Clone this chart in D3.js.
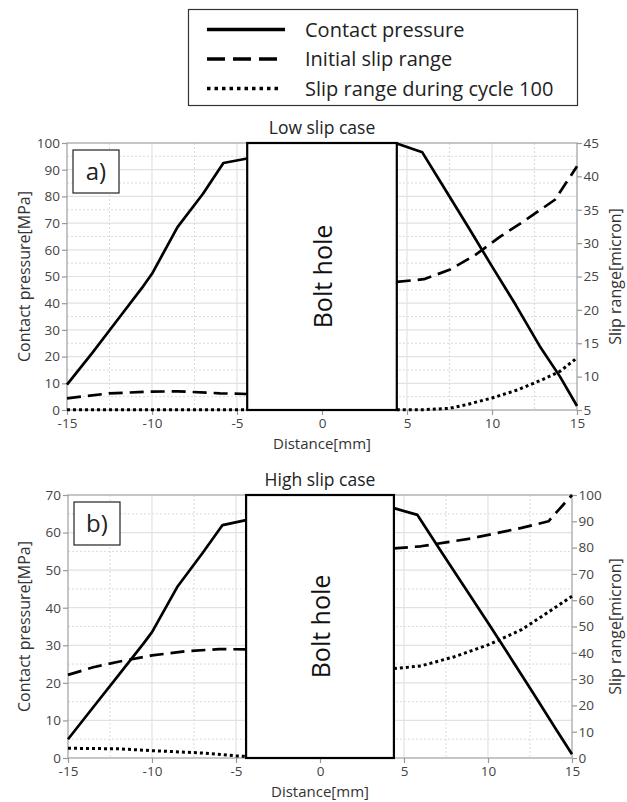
<!DOCTYPE html>
<html>
<head>
<meta charset="utf-8">
<script src="https://cdn.jsdelivr.net/npm/d3@7"></script>
<style>
  html, body { margin: 0; padding: 0; background: #fff; }
  svg { display: block; }
  text { font-family: "Open Sans", "Noto Sans", sans-serif; }
</style>
</head>
<body>
<svg id="chart" width="627" height="802"></svg>
<script>
// ---------------- DATA ----------------
const xTicks = [-15, -10, -5, 0, 5, 10, 15];
const boltHole = [-4.4, 4.4];

// Panel a) Low slip case
const lowLeftTicks = [0, 10, 20, 30, 40, 50, 60, 70, 80, 90, 100];
const lowRightTicks = [5, 10, 15, 20, 25, 30, 35, 40, 45];
const lowContactLeftX = [-15, -13.5, -12, -10.5, -10, -8.5, -7, -5.8, -4.4];
const lowContactLeftY = [9.5, 21.5, 34, 46.5, 51, 68.5, 81, 92.5, 94.2];
const lowContactRightX = [4.4, 5.9, 7.3, 8.7, 10, 11.4, 12.8, 14, 15];
const lowContactRightY = [99.8, 96.5, 82, 67.5, 53.8, 39.3, 24, 12.5, 1.5];
const lowInitialLeftX = [-15, -12.5, -10, -8.5, -6, -4.4];
const lowInitialLeftY = [6.75, 7.5, 7.75, 7.8, 7.5, 7.4];
const lowInitialRightX = [4.4, 6, 7.5, 9, 10.5, 12, 13.7, 15];
const lowInitialRightY = [24.2, 24.6, 26, 28.2, 31, 33.5, 36.5, 41.5];
const lowCycleLeftX = [-15, -4.4];
const lowCycleLeftY = [5.05, 5.05];
const lowCycleRightX = [4.4, 6, 7.5, 8.5, 10, 11.5, 13, 14, 15];
const lowCycleRightY = [5.05, 5.05, 5.25, 5.8, 6.8, 8, 9.6, 10.8, 12.8];

// Panel b) High slip case
const highLeftTicks = [0, 10, 20, 30, 40, 50, 60, 70];
const highRightTicks = [0, 10, 20, 30, 40, 50, 60, 70, 80, 90, 100];
const highContactLeftX = [-15, -13.5, -12, -10.5, -10, -8.5, -7, -5.8, -4.4];
const highContactLeftY = [5, 13.5, 22, 30.5, 33.5, 45.5, 54.5, 62, 63.3];
const highContactRightX = [4.4, 5.8, 7.2, 8.6, 10, 11.4, 12.8, 14, 15];
const highContactRightY = [66.5, 64.7, 55, 45.5, 36, 26.3, 16.5, 8, 1];
const highInitialLeftX = [-15, -13.5, -12, -10, -8, -6, -4.4];
const highInitialLeftY = [31.6, 34.5, 36.6, 39, 40.6, 41.4, 41.3];
const highInitialRightX = [4.4, 6, 7.5, 9, 10.5, 12, 13.6, 15];
const highInitialRightY = [79.7, 80.5, 82, 83.5, 85.5, 87.5, 90, 100];
const highCycleLeftX = [-15, -12, -10, -7, -5, -4.4];
const highCycleLeftY = [3.7, 3.5, 2.8, 1.9, 0.8, 0.6];
const highCycleRightX = [4.4, 6, 8, 10, 12, 13.6, 15];
const highCycleRightY = [34, 35, 38.5, 43, 48.8, 55.5, 61.5];

const legendLabels = ["Contact pressure", "Initial slip range", "Slip range during cycle 100"];

// ---------------- DRAWING ----------------
const svg = d3.select("#chart");
const styles = {
  solid: { width: 2.7, dash: null },
  dashed: { width: 2.7, dash: "14,7" },
  dotted: { width: 3, dash: "3,3" }
};

// Legend
const lg = svg.append("g");
lg.append("rect").attr("x", 188.5).attr("y", 9.5).attr("width", 389).attr("height", 96)
  .attr("fill", "#fff").attr("stroke", "#333").attr("stroke-width", 1.2);
const legendStyles = [
  { width: 3.6, dash: null, x2: 285 },
  { width: 3.6, dash: "18,8", x2: 277 },
  { width: 3.6, dash: "3.5,4", x2: 279 }
];
legendLabels.forEach((lab, i) => {
  const y = 29.5 + i * 29.5;
  lg.append("line").attr("x1", 207).attr("x2", legendStyles[i].x2).attr("y1", y).attr("y2", y)
    .attr("stroke", "#000").attr("stroke-width", legendStyles[i].width)
    .attr("stroke-dasharray", legendStyles[i].dash);
  lg.append("text").attr("x", 305).attr("y", y + 7).attr("font-size", 20)
    .attr("fill", "#222").text(lab);
});

function panel(cfg) {
  const x = d3.scaleLinear().domain([-15, 15]).range([cfg.left, cfg.right]);
  const yL = d3.scaleLinear().domain(cfg.leftDomain).range([cfg.bottom, cfg.top]);
  const yR = d3.scaleLinear().domain(cfg.rightDomain).range([cfg.bottom, cfg.top]);
  const g = svg.append("g");

  // grid
  const lt = cfg.leftTicks;
  const stepL = lt[1] - lt[0];
  lt.forEach(v => {
    if (v > lt[0] && v < lt[lt.length - 1]) {
      g.append("line").attr("x1", cfg.left).attr("x2", cfg.right)
        .attr("y1", yL(v)).attr("y2", yL(v)).attr("stroke", "#e2e2e2").attr("stroke-width", 1.2);
    }
    if (v < lt[lt.length - 1]) {
      g.append("line").attr("x1", cfg.left).attr("x2", cfg.right)
        .attr("y1", yL(v + stepL / 2)).attr("y2", yL(v + stepL / 2))
        .attr("stroke", "#dadada").attr("stroke-width", 1).attr("stroke-dasharray", "2,2");
    }
  });
  xTicks.forEach((v, i) => {
    if (i > 0 && i < xTicks.length - 1) {
      g.append("line").attr("x1", x(v)).attr("x2", x(v)).attr("y1", cfg.top).attr("y2", cfg.bottom)
        .attr("stroke", "#e2e2e2").attr("stroke-width", 1.2);
    }
    if (i < xTicks.length - 1) {
      g.append("line").attr("x1", x(v + 2.5)).attr("x2", x(v + 2.5)).attr("y1", cfg.top).attr("y2", cfg.bottom)
        .attr("stroke", "#dadada").attr("stroke-width", 1).attr("stroke-dasharray", "2,2");
    }
  });

  // frame
  g.append("rect").attr("x", cfg.left).attr("y", cfg.top)
    .attr("width", cfg.right - cfg.left).attr("height", cfg.bottom - cfg.top)
    .attr("fill", "none").attr("stroke", "#a0a0a0").attr("stroke-width", 1.2);

  // axes
  const axStyle = a => {
    a.attr("font-family", null);
    a.select(".domain").remove();
    a.selectAll(".tick line").attr("stroke", "#999").attr("stroke-width", 1.2);
    a.selectAll(".tick text").attr("fill", "#444").attr("font-size", 13.5);
  };
  g.append("g").attr("transform", `translate(0,${cfg.bottom})`)
    .call(d3.axisBottom(x).tickValues(xTicks).tickSize(5).tickPadding(3.5).tickFormat(d => String(d)))
    .call(axStyle);
  g.append("g").attr("transform", `translate(${cfg.left},0)`)
    .call(d3.axisLeft(yL).tickValues(cfg.leftTicks).tickSize(5).tickPadding(2).tickFormat(d => String(d)))
    .call(axStyle);
  g.append("g").attr("transform", `translate(${cfg.right},0)`)
    .call(d3.axisRight(yR).tickValues(cfg.rightTicks).tickSize(5).tickPadding(1.5).tickFormat(d => String(d)))
    .call(axStyle);

  // series
  const lineL = d3.line().x(d => x(d[0])).y(d => yL(d[1]));
  const lineR = d3.line().x(d => x(d[0])).y(d => yR(d[1]));
  cfg.series.forEach(s => {
    const pts = d3.zip(s.x, s.y);
    g.append("path").attr("d", (s.axis === "L" ? lineL : lineR)(pts))
      .attr("fill", "none").attr("stroke", "#000")
      .attr("stroke-width", s.style.width).attr("stroke-dasharray", s.style.dash)
      .attr("stroke-linejoin", "round");
  });

  // bolt hole
  g.append("rect").attr("x", x(boltHole[0])).attr("y", cfg.top)
    .attr("width", x(boltHole[1]) - x(boltHole[0])).attr("height", cfg.bottom - cfg.top)
    .attr("fill", "#fff").attr("stroke", "#000").attr("stroke-width", 2.2);
  const cx = x(0), cy = (cfg.top + cfg.bottom) / 2;
  g.append("text").attr("transform", `translate(${cx + 10},${cy}) rotate(-90)`)
    .attr("text-anchor", "middle").attr("font-size", 25).attr("fill", "#111").text("Bolt hole");

  // panel label box
  g.append("rect").attr("x", cfg.left + 6).attr("y", cfg.top + 7).attr("width", 46).attr("height", 43)
    .attr("fill", "#fff").attr("stroke", "#222").attr("stroke-width", 1.2);
  g.append("text").attr("x", cfg.left + 29).attr("y", cfg.top + 37).attr("text-anchor", "middle")
    .attr("font-size", 24).attr("fill", "#222").text(cfg.label);

  // titles
  g.append("text").attr("x", x(0)).attr("y", cfg.top - 9).attr("text-anchor", "middle")
    .attr("font-size", 17.5).attr("fill", "#222").text(cfg.title);
  g.append("text").attr("x", x(0)).attr("y", cfg.bottom + 39).attr("text-anchor", "middle")
    .attr("font-size", 15).attr("fill", "#333").text("Distance[mm]");
  g.append("text").attr("transform", `translate(30,${cy}) rotate(-90)`).attr("text-anchor", "middle")
    .attr("font-size", 16).attr("fill", "#333").text("Contact pressure[MPa]");
  g.append("text").attr("transform", `translate(621,${cy}) rotate(-90)`).attr("text-anchor", "middle")
    .attr("font-size", 16).attr("fill", "#333").text("Slip range[micron]");
}

panel({
  left: 67, right: 577, top: 143, bottom: 410,
  leftDomain: [0, 100], rightDomain: [5, 45],
  leftTicks: lowLeftTicks, rightTicks: lowRightTicks,
  label: "a)", title: "Low slip case",
  series: [
    { x: lowContactLeftX, y: lowContactLeftY, axis: "L", style: styles.solid },
    { x: lowContactRightX, y: lowContactRightY, axis: "L", style: styles.solid },
    { x: lowInitialLeftX, y: lowInitialLeftY, axis: "R", style: styles.dashed },
    { x: lowInitialRightX, y: lowInitialRightY, axis: "R", style: styles.dashed },
    { x: lowCycleLeftX, y: lowCycleLeftY, axis: "R", style: styles.dotted },
    { x: lowCycleRightX, y: lowCycleRightY, axis: "R", style: styles.dotted }
  ]
});

panel({
  left: 68, right: 572, top: 495, bottom: 758,
  leftDomain: [0, 70], rightDomain: [0, 100],
  leftTicks: highLeftTicks, rightTicks: highRightTicks,
  label: "b)", title: "High slip case",
  series: [
    { x: highContactLeftX, y: highContactLeftY, axis: "L", style: styles.solid },
    { x: highContactRightX, y: highContactRightY, axis: "L", style: styles.solid },
    { x: highInitialLeftX, y: highInitialLeftY, axis: "R", style: styles.dashed },
    { x: highInitialRightX, y: highInitialRightY, axis: "R", style: styles.dashed },
    { x: highCycleLeftX, y: highCycleLeftY, axis: "R", style: styles.dotted },
    { x: highCycleRightX, y: highCycleRightY, axis: "R", style: styles.dotted }
  ]
});
</script>
</body>
</html>
